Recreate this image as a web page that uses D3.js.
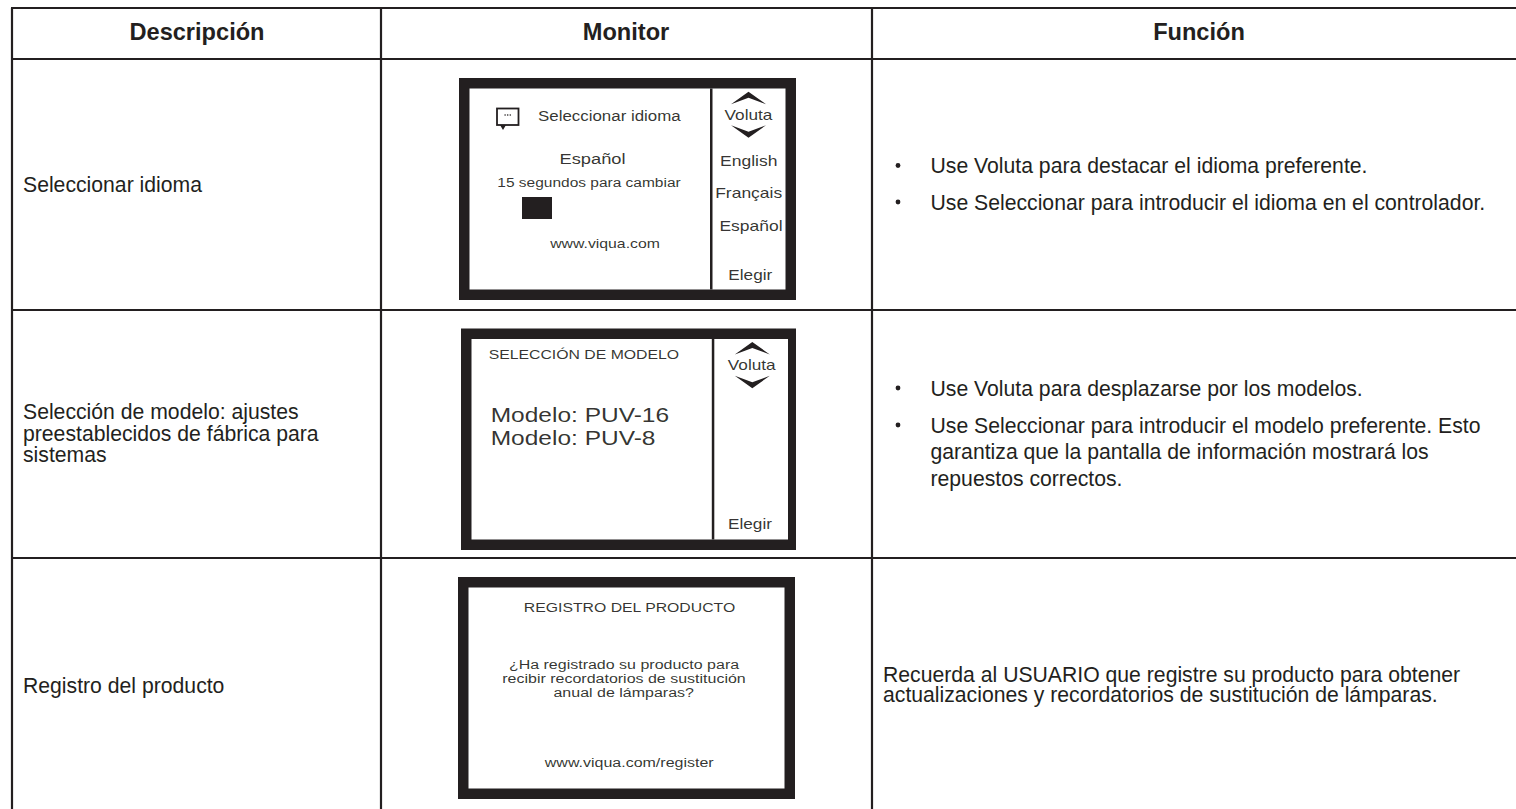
<!DOCTYPE html>
<html lang="es">
<head>
<meta charset="utf-8">
<title>Funciones del monitor</title>
<script src="https://cdn.jsdelivr.net/npm/d3@7"></script>
<style>
  html, body { margin: 0; background: #fff; }
  svg { display: block; }
  text { font-family: "Liberation Sans", Arial, sans-serif; fill: #231f20; }
</style>
</head>
<body>
<svg></svg>
<script>
// Table content
const headers = ['Descripción', 'Monitor', 'Función'];
const descriptions = [
    ['Seleccionar idioma'],
    ['Selección de modelo: ajustes', 'preestablecidos de fábrica para', 'sistemas'],
    ['Registro del producto']
];
const functionBullets = [
    ['Use Voluta para destacar el idioma preferente.', 'Use Seleccionar para introducir el idioma en el controlador.'],
    ['Use Voluta para desplazarse por los modelos.', 'Use Seleccionar para introducir el modelo preferente. Esto', 'garantiza que la pantalla de información mostrará los', 'repuestos correctos.'],
    ['Recuerda al USUARIO que registre su producto para obtener', 'actualizaciones y recordatorios de sustitución de lámparas.']
];
const softKeys = ['Voluta', 'English', 'Français', 'Español', 'Elegir'];
const languageScreen = ['Seleccionar idioma', 'Español', '15 segundos para cambiar', 'www.viqua.com'];
const modelScreen = ['SELECCIÓN DE MODELO', 'Modelo: PUV-16', 'Modelo: PUV-8'];
const registerScreen = ['REGISTRO DEL PRODUCTO', '¿Ha registrado su producto para', 'recibir recordatorios de sustitución', 'anual de lámparas?', 'www.viqua.com/register'];

// SVG Dimensions Variables
const width = 1516, height = 809;
const ink = '#231f20';
// The monitor drawings are stretched sideways in the original
const stretch = 1.2;

const svg = d3.select('svg').attr('width', width).attr('height', height);

// Table grid scales
const rowKeys = ['top', 'header', 'row1', 'row2'];
const colX = d3.scaleOrdinal(headers, [12, 381, 872]);
const rowY = d3.scaleOrdinal(rowKeys, [8, 59, 310, 558]);

function label(parent, str, x, y, size, anchor, weight) {
    return parent.append('text')
        .attr('x', x)
        .attr('y', y)
        .attr('font-size', size)
        .attr('text-anchor', anchor || 'start')
        .attr('font-weight', weight || 'normal')
        .text(str);
}

// Text inside a monitor, size is the font size the width asks for
function screenLabel(parent, str, x, y, size, anchor) {
    return label(parent, str, 0, 0, size / stretch, anchor)
        .attr('transform', `translate(${x},${y}) scale(${stretch},1)`)
        .attr('fill-opacity', 0.92);
}

// Function to draw the table lines and header
function drawGrid() {
    const grid = svg.append('g').attr('stroke', ink).attr('stroke-width', 2.2);
    grid.selectAll('.hline').data(rowKeys).enter().append('line')
        .attr('x1', colX(headers[0]) - 1)
        .attr('x2', width)
        .attr('y1', d => rowY(d))
        .attr('y2', d => rowY(d));
    grid.selectAll('.vline').data(headers).enter().append('line')
        .attr('x1', d => colX(d))
        .attr('x2', d => colX(d))
        .attr('y1', rowY('top'))
        .attr('y2', height);

    label(svg, headers[0], 197, 40, 23.6, 'middle', 'bold');
    label(svg, headers[1], 626, 40, 23.6, 'middle', 'bold');
    label(svg, headers[2], 1199, 40, 23.6, 'middle', 'bold');
}

// Function to draw the left and right columns
function drawColumns() {
    const descLines = [[191.5], [419.3, 440.7, 462.3], [693]];
    descriptions.forEach((lines, i) => {
        lines.forEach((str, j) => label(svg, str, colX(headers[0]) + 11, descLines[i][j], 21.2));
    });

    const bulletRows = [
        { base: [173, 209.5], dot: [0, 1] },
        { base: [395.5, 432.5, 459, 485.5], dot: [0, 1] },
        { base: [681.5, 702], dot: [] }
    ];
    functionBullets.forEach((lines, i) => {
        const textX = i === 2 ? 883 : 930.5;
        lines.forEach((str, j) => {
            label(svg, str, textX, bulletRows[i].base[j], 21.2);
            if (bulletRows[i].dot.includes(j)) {
                svg.append('circle')
                    .attr('cx', 898)
                    .attr('cy', bulletRows[i].base[j] - 7.5)
                    .attr('r', 2.4)
                    .attr('fill', ink);
            }
        });
    });
}

// Function to draw a monitor frame with optional soft key column
function drawFrame(x, y, w, h, dividerX, rightBorder) {
    const g = svg.append('g');
    const right = rightBorder || 10.5;
    g.append('rect').attr('x', x).attr('y', y).attr('width', w).attr('height', h).attr('fill', ink);
    g.append('rect').attr('x', x + 10.5).attr('y', y + 10.5).attr('width', w - 10.5 - right).attr('height', h - 21).attr('fill', '#fff');
    if (dividerX) {
        g.append('rect').attr('x', dividerX).attr('y', y + 10.5).attr('width', 2.5).attr('height', h - 21).attr('fill', ink);
    }
    return g;
}

// Arrow marks, thick at the tip and running out to points
function drawChevrons(g, cx, upY, downY) {
    const line = d3.line();
    [[upY + 12.5, upY, upY + 6], [downY - 12.5, downY, downY - 6]].forEach(([outer, tip, inner]) => {
        g.append('path')
            .attr('d', line([[cx - 17.5, outer], [cx, tip], [cx + 17.5, outer], [cx, inner]]) + 'Z')
            .attr('fill', ink);
    });
}

function drawMonitors() {
    // Language screen
    const m1 = drawFrame(459, 78, 337, 222, 710);
    screenLabel(m1, languageScreen[0], 538, 121, 16.9);
    screenLabel(m1, languageScreen[1], 592.5, 164, 18.3, 'middle');
    screenLabel(m1, languageScreen[2], 589, 187, 15.5, 'middle');
    m1.append('rect').attr('x', 522).attr('y', 197).attr('width', 30).attr('height', 22).attr('fill', ink);
    screenLabel(m1, languageScreen[3], 605, 247.7, 15.8, 'middle');
    drawChevrons(m1, 748.5, 91.7, 137.7);
    screenLabel(m1, softKeys[0], 748.5, 120, 17.2, 'middle');
    screenLabel(m1, softKeys[1], 748.7, 166, 17.5, 'middle');
    screenLabel(m1, softKeys[2], 748.7, 197.7, 17.5, 'middle');
    screenLabel(m1, softKeys[3], 751, 230.7, 17.5, 'middle');
    screenLabel(m1, softKeys[4], 750.3, 280, 17.2, 'middle');

    // Speech bubble icon
    m1.append('rect').attr('x', 497).attr('y', 108.5).attr('width', 21.5).attr('height', 16.5)
        .attr('fill', '#fff').attr('stroke', ink).attr('stroke-width', 1.8);
    m1.append('path').attr('d', d3.line()([[500, 125], [506, 125], [503, 130]])).attr('fill', ink);
    m1.selectAll('.dot').data([-2.6, 0, 2.6]).enter().append('circle')
        .attr('cx', d => 507.7 + d).attr('cy', 115).attr('r', 0.8).attr('fill', ink);

    // Model screen
    const m2 = drawFrame(461, 328.5, 335, 221.5, 711.8, 8);
    screenLabel(m2, modelScreen[0], 488.7, 359, 15.8);
    screenLabel(m2, modelScreen[1], 490.7, 421.7, 24.5);
    screenLabel(m2, modelScreen[2], 490.7, 445, 24.5);
    drawChevrons(m2, 752.3, 342, 388.3);
    screenLabel(m2, softKeys[0], 751.7, 370, 17.2, 'middle');
    screenLabel(m2, softKeys[4], 750, 529.3, 17.2, 'middle');

    // Register screen
    const m3 = drawFrame(458, 577, 337, 222);
    screenLabel(m3, registerScreen[0], 629.5, 612.3, 15.8, 'middle');
    screenLabel(m3, registerScreen[1], 624, 669.3, 16, 'middle');
    screenLabel(m3, registerScreen[2], 624, 683.3, 16, 'middle');
    screenLabel(m3, registerScreen[3], 623.7, 696.7, 16, 'middle');
    screenLabel(m3, registerScreen[4], 629.2, 767.3, 16, 'middle');
}

drawGrid();
drawColumns();
drawMonitors();
</script>
</body>
</html>
